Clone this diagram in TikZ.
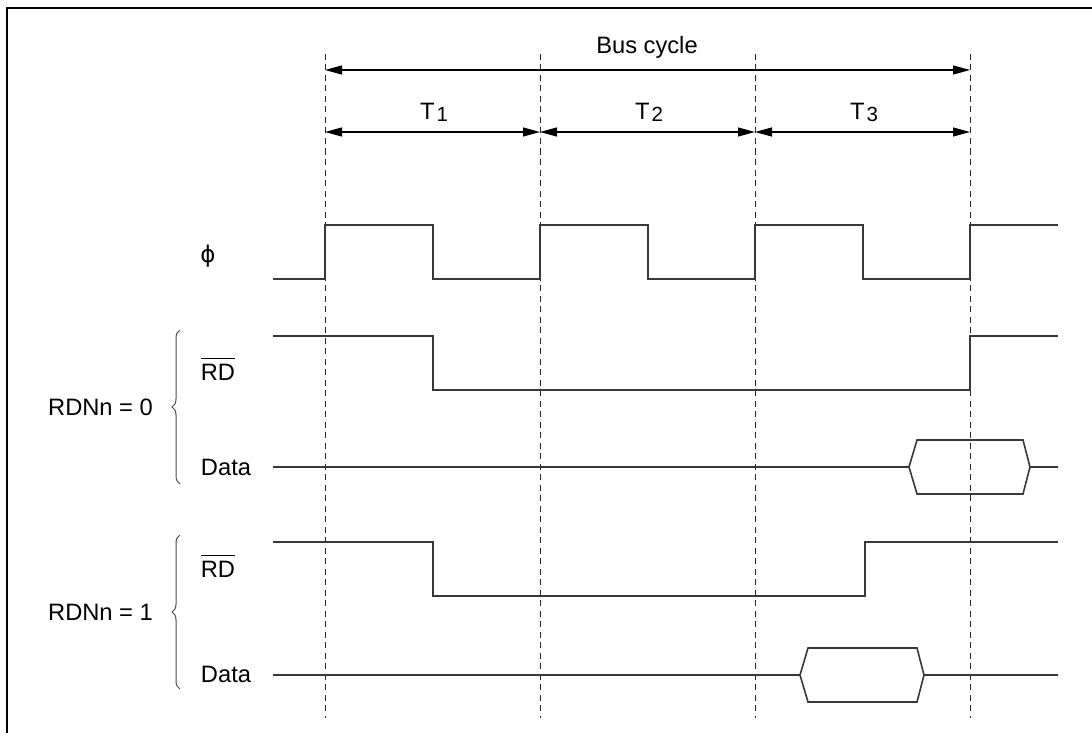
\documentclass[tikz,border=0pt]{standalone}
\usepackage{fontspec}
\setmainfont{Liberation Sans}
\newfontfamily\symfont{DejaVu Sans}
\usetikzlibrary{arrows.meta,decorations.pathreplacing}
\begin{document}
\begin{tikzpicture}[x=1pt,y=-1pt,
  sig/.style={line width=1.6pt,draw=black!78,line join=miter},
  guide/.style={line width=1pt,draw=black!85,dash pattern=on 6pt off 4.5pt},
  dim/.style={line width=1.1pt,draw=black,{Triangle[length=17pt,width=9pt]}-{Triangle[length=17pt,width=9pt]}},
  lbl/.style={inner sep=0pt,anchor=base,font=\fontsize{23.7}{28}\selectfont},
  brc/.style={line width=1pt,draw=black!70,decorate,decoration={brace,amplitude=8pt}},
  frame/.style={line width=2.6pt,draw=black}]
\useasboundingbox (0,0) rectangle (1092,733);
% frame
\draw[frame] (7,733) -- (7,8) -- (1092,8);
% guide coordinates
\foreach \n/\x in {a/325,b/540,c/755,d/970}{
  \coordinate (\n top) at (\x,54);
  \coordinate (\n bot) at (\x,718);
  \coordinate (\n bus) at (\x,70);
  \coordinate (\n t) at (\x,132);
}
\foreach \n in {a,b,c,d}{\draw[guide] (\n top) -- (\n bot);}
% dimension arrows
\draw[dim] (abus) -- (dbus);
\draw[dim] (at) -- (bt);
\draw[dim] (bt) -- (ct);
\draw[dim] (ct) -- (dt);
\node[lbl] (bus) at (647,53.5) {Bus cycle};
\node[lbl] (t1) at (434,120) {T\kern2pt\raisebox{-1.5pt}{\fontsize{20.5}{22}\selectfont 1}};
\node[lbl] (t2) at (649,120) {T\kern2pt\raisebox{-1.5pt}{\fontsize{20.5}{22}\selectfont 2}};
\node[lbl] (t3) at (864,120) {T\kern2pt\raisebox{-1.5pt}{\fontsize{20.5}{22}\selectfont 3}};
% phi clock
\node[inner sep=0pt,font=\symfont\fontsize{23}{28}\selectfont] (phi) at (208,256) {ϕ};
\draw[sig] (273,279) -- (325,279) -- (325,225) -- (433,225) -- (433,279) -- (540,279) -- (540,225)
  -- (648,225) -- (648,279) -- (755,279) -- (755,225) -- (863,225) -- (863,279) -- (970,279)
  -- (970,225) -- (1058,225);
% RDNn = 0
\node[lbl] (rd0) at (218,380) {RD};
\draw[line width=1.1pt] ([yshift=5pt]rd0.north west) -- ([yshift=5pt]rd0.north east);
\draw[sig] (273,336) -- (433,336) -- (433,390) -- (970,390) -- (970,336) -- (1058,336);
\node[lbl] (data0) at (226,475) {Data};
\draw[sig] (273,467) -- (909,467) -- (917,440) -- (1023,440) -- (1030,467) -- (1058,467);
\draw[sig] (909,467) -- (917,494) -- (1023,494) -- (1030,467);
\node[lbl] (rdn0) at (100.5,415) {RDNn = 0};
\draw[brc] (180,484) -- (180,330);
% RDNn = 1
\node[lbl] (rd1) at (218,577) {RD};
\draw[line width=1.1pt] ([yshift=5pt]rd1.north west) -- ([yshift=5pt]rd1.north east);
\draw[sig] (273,542) -- (433,542) -- (433,596) -- (865,596) -- (865,542) -- (1058,542);
\node[lbl] (data1) at (226,682) {Data};
\draw[sig] (273,675) -- (800,675) -- (808,648) -- (917,648) -- (924,675) -- (1058,675);
\draw[sig] (800,675) -- (808,702) -- (917,702) -- (924,675);
\node[lbl] (rdn1) at (100.5,620.5) {RDNn = 1};
\draw[brc] (180,689) -- (180,535);
\end{tikzpicture}
\end{document}
